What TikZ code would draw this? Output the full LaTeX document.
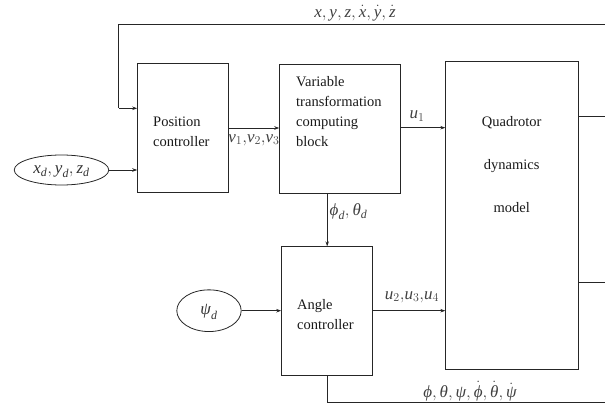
\documentclass[tikz,border=0pt]{standalone}
\usepackage{amsmath}
\usepackage{fontspec}
\setmainfont{Liberation Serif}
\usetikzlibrary{shapes.geometric,arrows.meta}
\newcommand\mv[1]{\text{\itshape #1}}
\newcommand\cm{{,}\,}
\tikzset{
  blk/.style={draw=black!85,line width=0.8pt,minimum width=#1,inner sep=0pt},
  conn/.style={draw=black!85,line width=0.9pt},
  arr/.style={conn,-{Stealth[length=5pt,width=3.5pt]}},
  oval/.style={draw=black!85,line width=0.8pt,ellipse,inner sep=0pt},
  txt/.style={font=\fontsize{14.5}{20}\selectfont,text=black!90,inner sep=0pt},
  lbl/.style={font=\fontsize{17}{18}\selectfont,text=black!75,inner sep=0pt},
}
\begin{document}
\begin{tikzpicture}[x=1pt,y=-1pt]
\useasboundingbox (0,0) rectangle (605,406);
% blocks
\node[blk=90.7pt,minimum height=129pt] (pc) at (183,127.8) {};
\node[blk=120.8pt,minimum height=129pt] (vt) at (340.1,128.8) {};
\node[blk=90.7pt,minimum height=128.3pt] (ac) at (327,310.9) {};
\node[blk=132.3pt,minimum height=307.6pt] (qd) at (511.9,215.5) {};
% ellipses
\node[oval,minimum width=94.5pt,minimum height=30pt] (e1) at (61.5,170) {};
\node[oval,minimum width=64.4pt,minimum height=41.7pt] (e2) at (209,310.7) {};
\node[lbl,text=black!80] (e1t) at (61.5,172) {$\mv{x}_{\mv{d}}\cm\mv{y}_{\mv{d}}\cm\mv{z}_{\mv{d}}$};
\node[lbl,text=black!80] (e2t) at (209,312) {$\mv{ψ}_{\mv{d}}$};
% block texts
\node[txt,align=left,anchor=west] (pct) at (153,131.5) {Position\\controller};
\node[txt,align=left,anchor=west] (vtt) at (296,112) {Variable\\transformation\\computing\\block};
\node[txt,align=left,anchor=west] (act) at (297,314.3) {Angle\\controller};
\node[txt,align=center,font=\fontsize{14.5}{43}\selectfont] (qdt) at (511.7,165) {Quadrotor\\dynamics\\model};
% coordinates
\coordinate (tr) at (605,24.5);
\coordinate (tl) at (118.8,24.5);
\coordinate (tlb) at (118.8,108.3);
\coordinate (br) at (605,402.7);
\coordinate (bl) at (327.2,402.7);
\coordinate (o1) at (605,116);
\coordinate (o2) at (605,282);
% connectors
\draw[arr] (e1.east) -- (e1.east -| pc.west);
\draw[conn] (tr) -- (tl) -- (tlb);
\draw[arr] (tlb) -- (tlb -| pc.west);
\draw[arr] (pc.east |- 0,128) -- (vt.west |- 0,128);
\draw[arr] (vt.east |- 0,127.7) -- (qd.west |- 0,127.7);
\draw[arr] (vt.south -| bl) -- (ac.north -| bl);
\draw[arr] (e2.east) -- (e2.east -| ac.west);
\draw[arr] (ac.east |- 0,310.7) -- (qd.west |- 0,310.7);
\draw[conn] (ac.south -| bl) -- (bl) -- (br);
\draw[conn] (qd.east |- o1) -- (o1);
\draw[conn] (qd.east |- o2) -- (o2);
% labels
\node[lbl] (l1) at (355,13) {$\mv{x}\cm\mv{y}\cm\mv{z}\cm\dot{\mv{x}}\cm\dot{\mv{y}}\cm\dot{\mv{z}}$};
\node[lbl] (l2) at (254,140) {$\mv{v}_{1}{,}\mv{v}_{2}{,}\mv{v}_{3}$};
\node[lbl] (l3) at (417,116) {$\mv{u}_{1}$};
\node[lbl,anchor=west] (l4) at (329.5,212) {$\mv{ϕ}_{\mv{d}}\cm\mv{θ}_{\mv{d}}$};
\node[lbl] (l5) at (412,297) {$\mv{u}_{2}{,}\mv{u}_{3}{,}\mv{u}_{4}$};
\node[lbl] (l6) at (470,391) {$\mv{ϕ}\cm\mv{θ}\cm\mv{ψ}\cm\dot{\mv{ϕ}}\cm\dot{\mv{θ}}\cm\dot{\mv{ψ}}$};
\end{tikzpicture}
\end{document}
